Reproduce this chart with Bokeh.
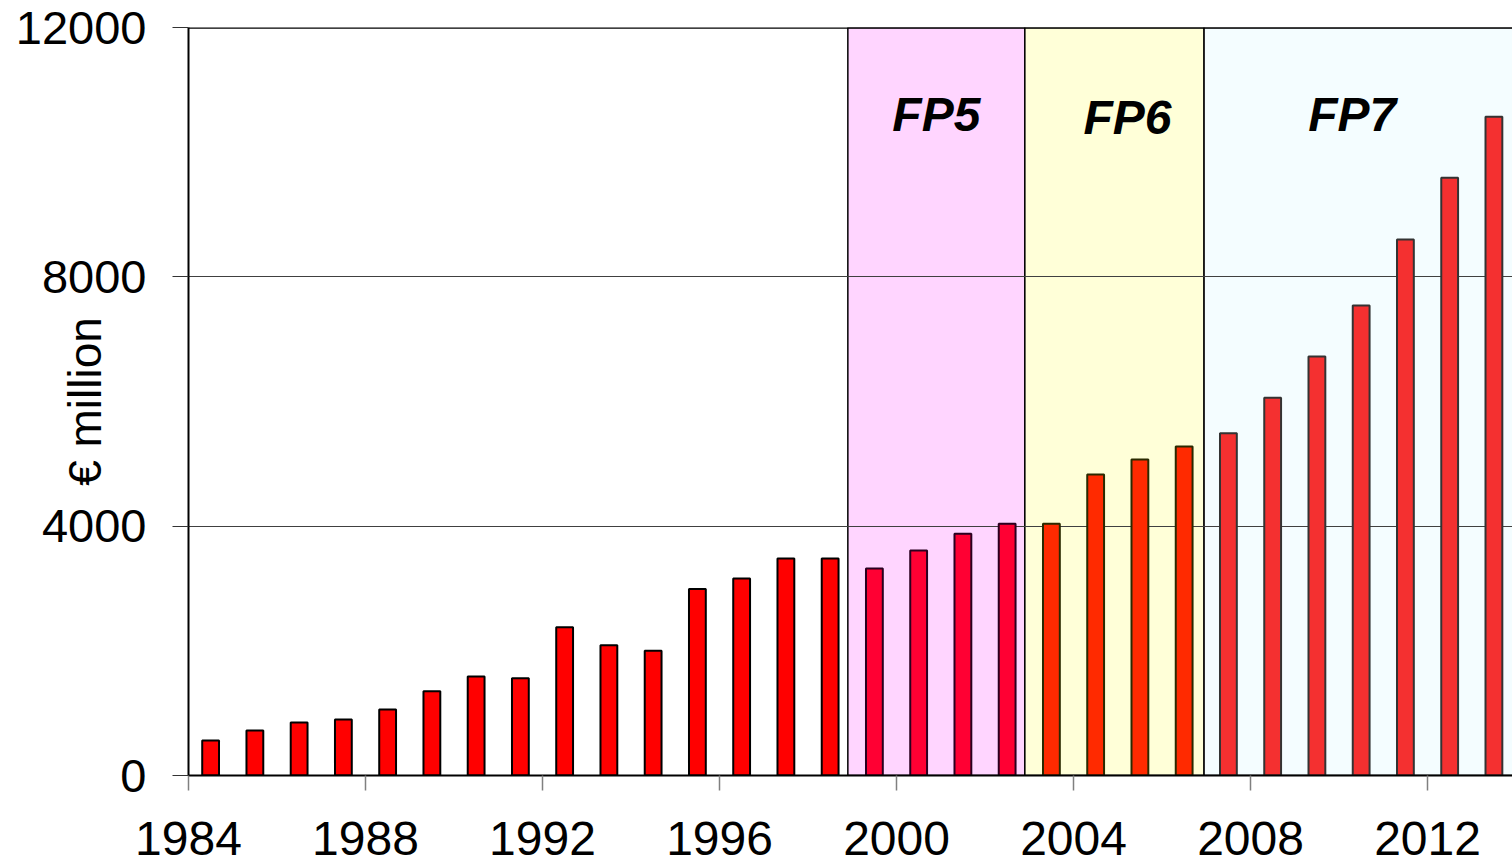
from bokeh.plotting import figure
from bokeh.models import FixedTicker, Span, ColumnDataSource
from bokeh.core.properties import value
from bokeh.embed import file_html
from bokeh.resources import INLINE

years = list(range(1984, 2014))
values = [560, 720, 850, 900, 1060, 1350, 1590, 1560, 2380, 2090, 2000, 2990,
          3160, 3480, 3480, 3320, 3610, 3880, 4040, 4040, 4830, 5070, 5280,
          5490, 6060, 6720, 7540, 8600, 9590, 10570]
periods = ["FP5", "FP6", "FP7"]
period_start = [1998.9, 2002.9, 2006.95]
period_end = [2002.9, 2006.95, 2014.5]
period_shade = ["#FFD5FF", "#FFFFD8", "#F4FDFF"]
pre_fill, pre_line = "#FF0000", "#000000"
period_fill = ["#FF0033", "#FF2A00", "#F43030"]
period_line = ["#2A0020", "#2A2A00", "#333333"]
x_ticks = [1984, 1988, 1992, 1996, 2000, 2004, 2008, 2012]
y_ticks = [0, 4000, 8000, 12000]
y_label = "€ million"

X_END = 2013.92

def period_of(y):
    for i, (s, e) in enumerate(zip(period_start, period_end)):
        if s <= y + 0.5 < e:
            return i
    return -1

fills, lines = [], []
for y in years:
    i = period_of(y)
    fills.append(pre_fill if i < 0 else period_fill[i])
    lines.append(pre_line if i < 0 else period_line[i])

src = ColumnDataSource(dict(x=[y + 0.5 for y in years], top=values, fill=fills, line=lines))

FONT = "Liberation Sans"
p = figure(width=1512, height=868, output_backend="svg", toolbar_location=None,
           x_range=(1984, X_END), y_range=(0, 12000),
           min_border_left=188, min_border_top=27, min_border_bottom=93, min_border_right=0)
p.outline_line_color = None
p.background_fill_color = "white"

# shaded programme periods
p.quad(left=period_start, right=period_end, bottom=0, top=12000,
       fill_color=period_shade, line_color="black", line_width=1.5, level="image")

p.vbar(x="x", top="top", width=0.38, bottom=0, source=src,
       fill_color="fill", line_color="line", line_width=2)

lab_src = ColumnDataSource(dict(
    x=[(s + min(e, X_END)) / 2 for s, e in zip(period_start, period_end)],
    y=[10600] * 3, text=periods, dx=[0, 13, -6], dy=[0, 3, 0]))
p.text(x="x", y="y", text="text", x_offset="dx", y_offset="dy", source=lab_src,
       text_font=value(FONT), text_font_style="bold italic",
       text_font_size="48px", text_align="center", text_baseline="middle", text_color="black")

p.add_layout(Span(location=12000, dimension="width", line_color="black", line_width=2.5))

p.xgrid.visible = False
p.ygrid.ticker = FixedTicker(ticks=y_ticks)
p.ygrid.grid_line_color = "#404040"
p.ygrid.grid_line_width = 1

xa = p.xaxis[0]
xa.ticker = FixedTicker(ticks=x_ticks)
xa.major_tick_in = 0
xa.major_tick_out = 15
xa.major_tick_line_color = "#808080"
xa.major_tick_line_width = 1.5
xa.minor_tick_line_color = None
xa.axis_line_color = "black"
xa.axis_line_width = 2
xa.major_label_text_font = FONT
xa.major_label_text_font_size = "48px"
xa.major_label_text_color = "black"
xa.major_label_text_line_height = 0.6
xa.major_label_standoff = 31

ya = p.yaxis[0]
ya.ticker = FixedTicker(ticks=y_ticks)
ya.major_tick_in = 0
ya.major_tick_out = 16
ya.major_tick_line_color = "#333333"
ya.minor_tick_line_color = None
ya.axis_line_color = "black"
ya.axis_line_width = 2
ya.major_label_text_font = FONT
ya.major_label_text_font_size = "47px"
ya.major_label_text_color = "black"
ya.major_label_standoff = 26
ya.axis_label = y_label
ya.axis_label_text_font = FONT
ya.axis_label_text_font_size = "46px"
ya.axis_label_text_font_style = "normal"
ya.axis_label_text_color = "black"
ya.axis_label_standoff = -98

open("out.html", "w").write(file_html(p, INLINE))
